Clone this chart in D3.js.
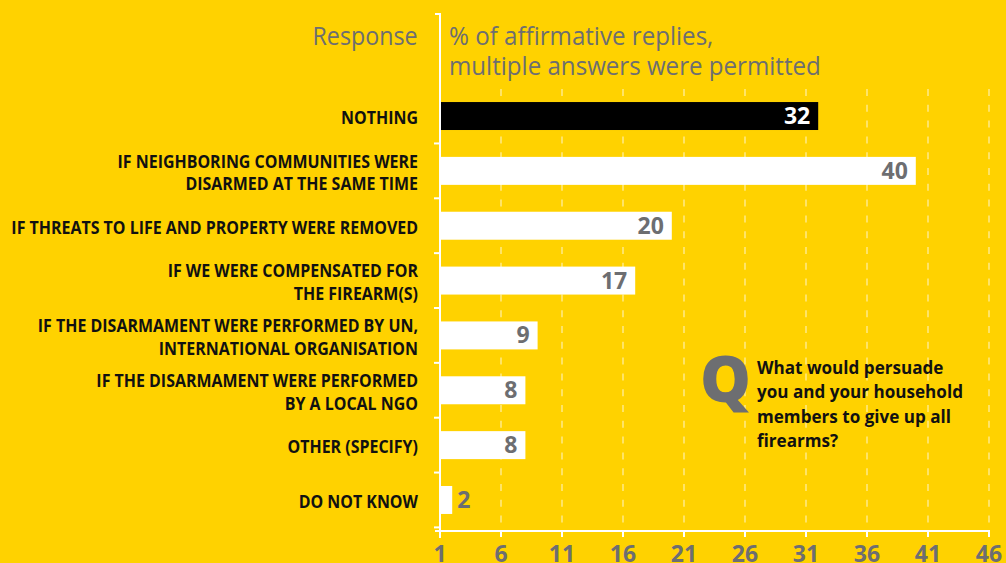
<!DOCTYPE html>
<html>
<head>
<meta charset="utf-8">
<script src="https://cdn.jsdelivr.net/npm/d3@7/dist/d3.min.js"></script>
<style>
  html, body { margin: 0; padding: 0; background: #FFD200; overflow: hidden; }
  svg { display: block; }
  text { font-family: "Open Sans", "Noto Sans", "DejaVu Sans", sans-serif; }
</style>
</head>
<body>
<svg id="chart" width="1006" height="563"></svg>
<script>
// ---- data ----
const categories = [
  ["NOTHING"],
  ["IF NEIGHBORING COMMUNITIES WERE", "DISARMED AT THE SAME TIME"],
  ["IF THREATS TO LIFE AND PROPERTY WERE REMOVED"],
  ["IF WE WERE COMPENSATED FOR", "THE FIREARM(S)"],
  ["IF THE DISARMAMENT WERE PERFORMED BY UN,", "INTERNATIONAL ORGANISATION"],
  ["IF THE DISARMAMENT WERE PERFORMED", "BY A LOCAL NGO"],
  ["OTHER (SPECIFY)"],
  ["DO NOT KNOW"]
];
const values = [32, 40, 20, 17, 9, 8, 8, 2];
const highlighted = ["NOTHING"];
const xTicks = [1, 6, 11, 16, 21, 26, 31, 36, 41, 46];
const responseTitle = "Response";
const valueTitle = ["% of affirmative replies,", "multiple answers were permitted"];
const questionMark = "Q";
const question = ["What would persuade", "you and your household", "members to give up all", "firearms?"];

// ---- styles ----
const BG = "#FFD200";
const GRAY = "#6D6E71";
const INK = "#111111";

const svg = d3.select("#chart");
svg.append("rect").attr("width", 1006).attr("height", 563).attr("fill", BG);

const x = d3.scaleLinear().domain([1, 46]).range([440, 989]);
const y = d3.scaleBand().domain(d3.range(categories.length))
  .range([88.6, 527.4]).paddingInner(0.49).paddingOuter(0.245);

function squeeze(sel, target) {
  const maxW = d3.max(sel.nodes(), n => n.getComputedTextLength());
  const k = Math.min(1.15, target / maxW);
  sel.each(function () {
    const ax = +this.getAttribute("x");
    d3.select(this).attr("transform", `translate(${ax},0) scale(${k},1) translate(${-ax},0)`);
  });
}

// grid lines
svg.append("g").selectAll("line")
  .data(xTicks.filter(t => t !== xTicks[0]))
  .join("line")
  .attr("x1", d => x(d)).attr("x2", d => x(d))
  .attr("y1", 89).attr("y2", 529)
  .attr("stroke", "rgba(255,255,255,0.5)")
  .attr("stroke-width", 1.6)
  .attr("stroke-dasharray", "7,8.8");

// bars
const bars = svg.append("g");
bars.selectAll("rect")
  .data(values)
  .join("rect")
  .attr("x", x(xTicks[0]) + 1)
  .attr("y", (d, i) => y(i))
  .attr("width", d => x(d) - x(xTicks[0]) - 1)
  .attr("height", y.bandwidth())
  .attr("fill", (d, i) => highlighted.includes(categories[i][0]) ? "#000" : "#fff");

// value labels
bars.selectAll("text")
  .data(values)
  .join("text")
  .attr("x", d => (x(d) - x(xTicks[0]) > 35) ? x(d) - 8 : x(d) + 5)
  .attr("y", (d, i) => y(i) + y.bandwidth() / 2 + 8)
  .attr("text-anchor", d => (x(d) - x(xTicks[0]) > 35) ? "end" : "start")
  .attr("font-size", 23)
  .attr("font-weight", 700)
  .attr("fill", (d, i) => highlighted.includes(categories[i][0]) ? "#fff" : GRAY)
  .text(d => d);

// category labels
const lineH = 22.5;
const labelData = [];
categories.forEach((lines, i) => {
  lines.forEach((ln, j) => {
    labelData.push({ text: ln, y: y(i) + y.bandwidth() / 2 + 8 + (j - (lines.length - 1) / 2) * lineH });
  });
});
const catLabels = svg.append("g").selectAll("text")
  .data(labelData)
  .join("text")
  .attr("x", 418)
  .attr("y", d => d.y)
  .attr("text-anchor", "end")
  .attr("font-size", 17.5)
  .attr("font-weight", 700)
  .attr("fill", INK)
  .text(d => d.text);
squeeze(catLabels, 407);

// axes
svg.append("path")
  .attr("d", `M435,14H440V538`)
  .attr("fill", "none").attr("stroke", "#fff").attr("stroke-width", 2);
svg.append("path")
  .attr("d", `M435,531H${x(xTicks[xTicks.length - 1])}`)
  .attr("fill", "none").attr("stroke", "#fff").attr("stroke-width", 2);

// category tick marks
const step = y.step();
svg.append("g").selectAll("line")
  .data(d3.range(1, categories.length + 1))
  .join("line")
  .attr("x1", 434).attr("x2", 440)
  .attr("y1", i => y(0) + i * step - (step - y.bandwidth()) / 2)
  .attr("y2", i => y(0) + i * step - (step - y.bandwidth()) / 2)
  .attr("stroke", "#fff").attr("stroke-width", 2);

// x ticks
const xt = svg.append("g");
xt.selectAll("line")
  .data(xTicks)
  .join("line")
  .attr("x1", d => x(d)).attr("x2", d => x(d))
  .attr("y1", 530).attr("y2", 537)
  .attr("stroke", "#fff").attr("stroke-width", 2);
xt.selectAll("text")
  .data(xTicks)
  .join("text")
  .attr("x", d => x(d))
  .attr("y", 562)
  .attr("text-anchor", "middle")
  .attr("font-size", 23)
  .attr("font-weight", 700)
  .attr("fill", GRAY)
  .text(d => d);

// headers
const resp = svg.append("text")
  .attr("x", 417.5).attr("y", 45.5)
  .attr("text-anchor", "end")
  .attr("font-size", 26)
  .attr("fill", GRAY)
  .text(responseTitle);
squeeze(resp, 105);

const vt = svg.append("g").selectAll("text")
  .data(valueTitle)
  .join("text")
  .attr("x", 449)
  .attr("y", (d, i) => 45.5 + i * 30)
  .attr("font-size", 26)
  .attr("fill", GRAY)
  .text(d => d);
squeeze(vt, 372);

// question box
svg.append("text")
  .attr("x", 700).attr("y", 402)
  .attr("font-size", 64)
  .attr("font-weight", 800)
  .attr("fill", GRAY)
  .text(questionMark);

const qt = svg.append("g").selectAll("text")
  .data(question)
  .join("text")
  .attr("x", 757)
  .attr("y", (d, i) => 374 + i * 24.5)
  .attr("font-size", 18)
  .attr("font-weight", 700)
  .attr("fill", INK)
  .text(d => d);
squeeze(qt, 206);
</script>
</body>
</html>
